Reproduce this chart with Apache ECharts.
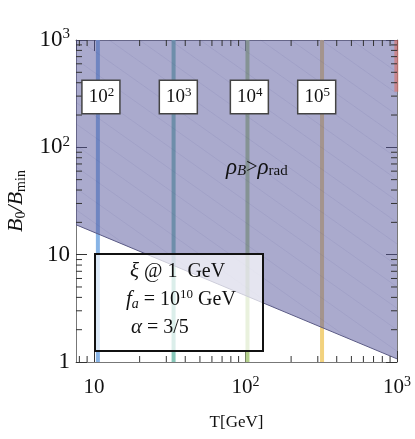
<!DOCTYPE html>
<html><head><meta charset="utf-8">
<script src="https://cdn.jsdelivr.net/npm/echarts@6/dist/echarts.min.js"></script>
<style>html,body{margin:0;padding:0;background:#fff}#c{width:415px;height:439px}</style>
</head><body><div id="c"></div>
<script>
// ---- data ----
const xRange = [7.6, 1000];           // T [GeV]
const yRange = [1, 1000];             // B0/Bmin
const boundary = [[7.6, 19], [1000, 1.07]];   // rho_B = rho_rad line
const sampleT = [10.6, 33.5, 103, 320];       // vertical curves
const sampleExp = ['2', '3', '4', '5'];       // label exponents
const labelT = [11.1, 36, 106, 295];
const labelB = 295;
const redT = [[990, 330], [990, 1000]];
const xMinorTicks = [8, 9, 20, 30, 40, 50, 60, 70, 80, 90, 200, 300, 400, 500, 600, 700, 800, 900];
const yMinorTicks = [2, 3, 4, 5, 6, 7, 8, 9, 20, 30, 40, 50, 60, 70, 80, 90, 200, 300, 400, 500, 600, 700, 800, 900];
const tickValues = [1, 10, 100, 1000];
const tickTexts = ['{b|1}', '{b|10}', '{b|10}{s|2}', '{b|10}{s|3}'];
const meshC = [2.3, 2.5, 2.7, 2.9, 3.1, 3.3, 3.5, 3.7, 3.9, 4.1, 4.3, 4.5, 4.7, 4.9, 5.1, 5.3, 5.5, 5.7]; // log10(T*B) of faint seams

// ---- styles ----
const SERIF = '"Liberation Serif","DejaVu Serif",serif';
const lineColors = ['#88b4e6', '#86c6b8', '#b4d08c', '#f2d27e'];

function tickLabel(v) {
  for (let i = 0; i < tickValues.length; i++) {
    if (Math.abs(v - tickValues[i]) < 1e-6 * tickValues[i]) return tickTexts[i];
  }
  return '';
}

// faint seam segments clipped to the shaded region (geometry helper)
function meshSegment(c) {
  const L = Math.log10;
  const X0 = L(xRange[0]), X1 = L(xRange[1]), Y1 = L(yRange[1]);
  const bx0 = L(boundary[0][0]), by0 = L(boundary[0][1]);
  const bx1 = L(boundary[1][0]), by1 = L(boundary[1][1]);
  const m = (by1 - by0) / (bx1 - bx0);
  let sx = Math.max(X0, c - Y1);
  let ex = (c - by0 + m * bx0) / (1 + m);
  ex = Math.min(ex, X1);
  if (ex <= sx) return null;
  return [[Math.pow(10, sx), Math.pow(10, c - sx)], [Math.pow(10, ex), Math.pow(10, c - ex)]];
}
const meshData = meshC.map(meshSegment).filter(s => s).map(s => ({ coords: s }));

const labelRich = {
  b: { fontFamily: SERIF, fontSize: 23, color: '#111', lineHeight: 26 },
  s: { fontFamily: SERIF, fontSize: 15, color: '#111', verticalAlign: 'top', lineHeight: 15 }
};
const xLabelRich = {
  b: { fontFamily: SERIF, fontSize: 21, color: '#111', lineHeight: 24 },
  s: { fontFamily: SERIF, fontSize: 14, color: '#111', verticalAlign: 'top', lineHeight: 14 }
};

const series = [];
sampleT.forEach((t, i) => {
  series.push({
    type: 'line', data: [[t, yRange[0]], [t, yRange[1]]], symbol: 'none', silent: true, z: 1,
    lineStyle: { color: lineColors[i], width: 4 }
  });
});
series.push({
  type: 'line', data: boundary, symbol: 'none', silent: true, z: 2,
  lineStyle: { color: '#5a5a85', width: 1 },
  areaStyle: { origin: 'end', color: 'rgba(85,85,155,0.5)', opacity: 1 }
});
series.push({
  type: 'lines', coordinateSystem: 'cartesian2d', data: meshData, silent: true, z: 3,
  lineStyle: { color: 'rgba(60,60,130,0.16)', width: 1 }
});
series.push({
  type: 'line', data: redT, symbol: 'none', silent: true, z: 4,
  lineStyle: { color: 'rgba(220,110,100,0.6)', width: 4 }
});
series.push({
  type: 'scatter', symbolSize: 0, silent: true, z: 8,
  itemStyle: { color: '#fff', opacity: 1 },
  data: labelT.map((t, i) => ({ value: [t, labelB], exp: sampleExp[i] })),
  label: {
    show: true, position: 'inside', opacity: 1,
    formatter: p => '{b|10}{s|' + p.data.exp + '}',
    backgroundColor: '#ffffff', borderColor: '#444', borderWidth: 1.5,
    padding: [5, 5, 4, 6],
    rich: {
      b: { fontFamily: SERIF, fontSize: 19, color: '#111', lineHeight: 23 },
      s: { fontFamily: SERIF, fontSize: 13, color: '#111', verticalAlign: 'top', lineHeight: 13 }
    }
  }
});
// minor ticks on all four sides
series.push({
  type: 'custom', silent: true, z: 6,
  data: xMinorTicks.map(v => [v, yRange[0]]),
  renderItem: (params, api) => {
    const cs = params.coordSys;
    const x = api.coord([api.value(0), yRange[0]])[0];
    const b = cs.y + cs.height, t = cs.y;
    return { type: 'group', children: [
      { type: 'line', shape: { x1: x, y1: b, x2: x, y2: b - 6 }, style: { stroke: '#333', lineWidth: 1 } },
      { type: 'line', shape: { x1: x, y1: t, x2: x, y2: t + 6 }, style: { stroke: '#333', lineWidth: 1 } }
    ] };
  }
});
series.push({
  type: 'custom', silent: true, z: 6,
  data: yMinorTicks.map(v => [xRange[1], v]),
  renderItem: (params, api) => {
    const cs = params.coordSys;
    const y = api.coord([xRange[1], api.value(1)])[1];
    const l = cs.x, r = cs.x + cs.width;
    return { type: 'group', children: [
      { type: 'line', shape: { x1: l, y1: y, x2: l + 6, y2: y }, style: { stroke: '#333', lineWidth: 1 } },
      { type: 'line', shape: { x1: r, y1: y, x2: r - 6, y2: y }, style: { stroke: '#333', lineWidth: 1 } }
    ] };
  }
});

const axisCommon = {
  type: 'log', logBase: 10, splitLine: { show: false },
  axisTick: { inside: true, length: 11, lineStyle: { color: '#333' } },
  axisLine: { lineStyle: { color: '#777', width: 1 } }
};

const option = {
  animation: false,
  grid: { left: 76, right: 18, top: 40, bottom: 77, containLabel: false, outerBoundsMode: 'none' },
  xAxis: [
    Object.assign({}, axisCommon, {
      min: xRange[0], max: xRange[1], position: 'bottom',
      name: 'T[GeV]', nameLocation: 'middle', nameGap: 52,
      nameTextStyle: { fontFamily: SERIF, fontSize: 17, color: '#111' },
      axisLabel: { margin: 13, showMinLabel: false, formatter: tickLabel, rich: xLabelRich }
    }),
    Object.assign({}, axisCommon, {
      min: xRange[0], max: xRange[1], position: 'top', axisLabel: { show: false }
    })
  ],
  yAxis: [
    Object.assign({}, axisCommon, {
      min: yRange[0], max: yRange[1], position: 'left',
      name: '{i|B}{s|0}{i|/B}{m|min}', nameLocation: 'middle', nameGap: 48, nameRotate: 90,
      nameTextStyle: { rich: {
        i: { fontFamily: SERIF, fontStyle: 'italic', fontSize: 22, color: '#111' },
        s: { fontFamily: SERIF, fontSize: 14, color: '#111', verticalAlign: 'bottom', padding: [9, 0, 0, 0] },
        m: { fontFamily: SERIF, fontSize: 14, color: '#111', verticalAlign: 'bottom', padding: [9, 0, 0, 0] }
      } },
      axisLabel: { margin: 6, formatter: tickLabel, rich: labelRich }
    }),
    Object.assign({}, axisCommon, {
      min: yRange[0], max: yRange[1], position: 'right', axisLabel: { show: false }
    })
  ],
  series: series,
  graphic: [
    { type: 'text', left: 226, top: 156, z: 20, style: {
      text: '{r|ρ}{sb|B}{n|>}{r|ρ}{sr|rad}',
      rich: {
        r: { fontFamily: SERIF, fontStyle: 'italic', fontSize: 23, fill: '#111' },
        sb: { fontFamily: SERIF, fontStyle: 'italic', fontSize: 15, fill: '#111', padding: [8, 0, 0, 0] },
        n: { fontFamily: SERIF, fontSize: 20, fill: '#111' },
        sr: { fontFamily: SERIF, fontSize: 15, fill: '#111', padding: [8, 0, 0, 0] }
      } } },
    { type: 'rect', left: 94, top: 253, z: 20, shape: { width: 168, height: 97 },
      style: { fill: 'rgba(255,255,255,0.7)', stroke: '#111', lineWidth: 2 } },
    { type: 'text', left: 130, top: 261, z: 21, style: {
      text: '{i|ξ} @ 1  GeV',
      font: '20px ' + SERIF, fill: '#111',
      rich: { i: { fontFamily: SERIF, fontStyle: 'italic', fontSize: 21, fill: '#111' } } } },
    { type: 'text', left: 126, top: 288, z: 21, style: {
      text: '{i|f}{a|a} = 10{p|10} GeV',
      font: '20px ' + SERIF, fill: '#111',
      rich: {
        i: { fontFamily: SERIF, fontStyle: 'italic', fontSize: 21, fill: '#111' },
        a: { fontFamily: SERIF, fontStyle: 'italic', fontSize: 14, fill: '#111', padding: [9, 0, 0, 0] },
        p: { fontFamily: SERIF, fontSize: 13, fill: '#111', padding: [0, 0, 10, 0] }
      } } },
    { type: 'text', left: 131, top: 317, z: 21, style: {
      text: '{i|α} = 3/5',
      font: '20px ' + SERIF, fill: '#111',
      rich: { i: { fontFamily: SERIF, fontStyle: 'italic', fontSize: 21, fill: '#111' } } } }
  ]
};
const chart = echarts.init(document.getElementById('c'));
chart.setOption(option);
</script></body></html>
